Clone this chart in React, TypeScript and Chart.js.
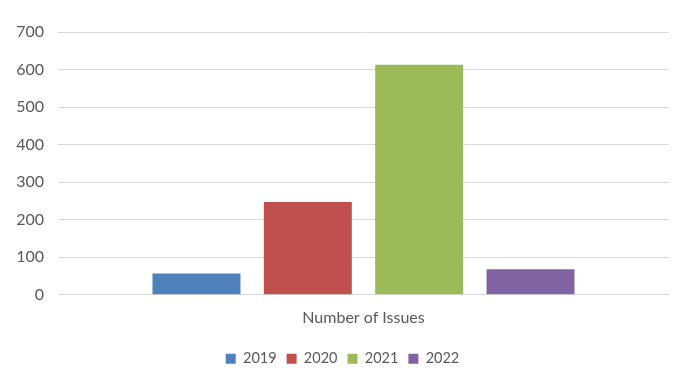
import React, { useEffect, useRef } from "react";
import { Chart, registerables } from "chart.js";

Chart.register(...registerables);

const categories = ["Number of Issues"];
const seriesNames = ["2019", "2020", "2021", "2022"];
const seriesValues = [[57], [247], [613], [68]];
const seriesColors = ["#4F81BD", "#C0504D", "#9BBB59", "#8064A2"];
const yTicks = [0, 100, 200, 300, 400, 500, 600, 700];

export default function App() {
  const ref = useRef<HTMLCanvasElement | null>(null);
  useEffect(() => {
    if (!ref.current) return;
    const font = "Lato, 'Open Sans', 'Liberation Sans', sans-serif";
    const chart = new Chart(ref.current, {
      type: "bar",
      data: {
        labels: categories,
        datasets: seriesNames.map((n, i) => ({
          label: n,
          data: seriesValues[i],
          backgroundColor: seriesColors[i],
          borderWidth: 0,
          categoryPercentage: 0.729,
          barPercentage: 0.79,
        })),
      },
      options: {
        animation: false,
        responsive: false,
        maintainAspectRatio: false,
        layout: { padding: { top: 32, right: 23, left: 16, bottom: 11 } },
        plugins: {
          legend: {
            position: "bottom",
            labels: {
              boxWidth: 10,
              boxHeight: 10,
              padding: 10,
              color: "#595959",
              font: { family: font, size: 14.5 },
            },
          },
          tooltip: { enabled: false },
        },
        scales: {
          x: {
            grid: { display: false, drawTicks: false },
            border: { display: true, color: "#d9d9d9", width: 1 },
            ticks: { color: "#595959", padding: 13.75, font: { family: font, size: 16 } },
          },
          y: {
            min: 0,
            max: 700,
            afterBuildTicks: (axis: any) => {
              axis.ticks = yTicks.map((v) => ({ value: v }));
            },
            afterFit: (axis: any) => {
              axis.width = 42;
            },
            grid: { color: "#d9d9d9", lineWidth: 1, drawTicks: false },
            border: { display: false },
            ticks: { color: "#595959", padding: 14, font: { family: font, size: 16 } },
          },
        },
      },
    });
    return () => chart.destroy();
  }, []);
  return (
    <div style={{ position: "absolute", left: 0, top: 0, width: 692, height: 387, background: "#fff" }}>
      <canvas ref={ref} width={692} height={387} style={{ width: 692, height: 387 }} />
    </div>
  );
}
